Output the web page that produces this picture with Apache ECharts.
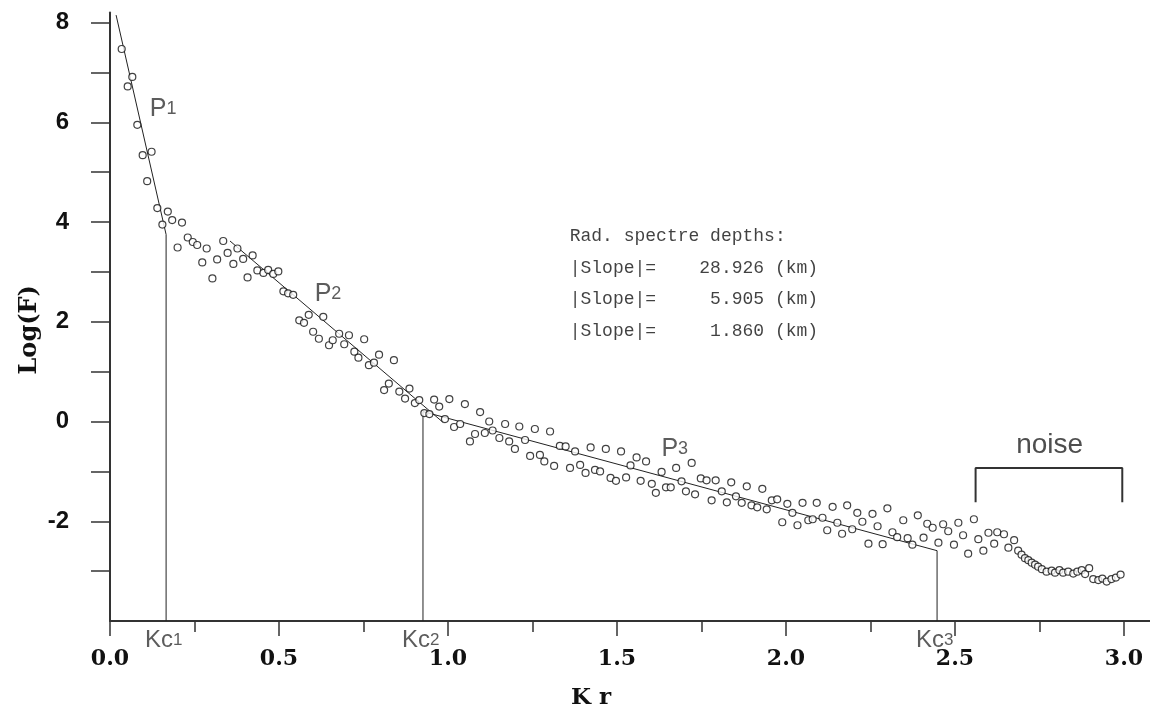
<!DOCTYPE html>
<html><head><meta charset="utf-8">
<script src="https://cdn.jsdelivr.net/npm/echarts@6/dist/echarts.min.js"></script>
<style>html,body{margin:0;padding:0;background:#fff}#c{width:1150px;height:715px}</style>
</head><body><div id="c"></div>
<script>
// ---- data ----
const kr = [0.0346,0.0524,0.066,0.0808,0.0967,0.110,0.123,0.140,0.155,0.171,0.184,0.200,0.213,0.230,0.245,0.258,0.273,0.286,0.303,0.317,0.335,0.348,0.365,0.377,0.394,0.407,0.422,0.436,0.454,0.468,0.483,0.498,0.513,0.527,0.542,0.560,0.574,0.588,0.601,0.618,0.631,0.648,0.659,0.678,0.693,0.707,0.723,0.735,0.752,0.766,0.781,0.796,0.811,0.825,0.840,0.856,0.873,0.886,0.902,0.915,0.930,0.945,0.959,0.974,0.991,1.004,1.018,1.036,1.050,1.065,1.080,1.095,1.109,1.122,1.132,1.152,1.169,1.181,1.198,1.211,1.228,1.243,1.257,1.272,1.285,1.302,1.314,1.331,1.348,1.361,1.376,1.391,1.407,1.422,1.435,1.450,1.467,1.481,1.497,1.512,1.527,1.540,1.558,1.570,1.586,1.603,1.615,1.632,1.645,1.659,1.675,1.691,1.704,1.721,1.731,1.748,1.765,1.780,1.792,1.810,1.825,1.838,1.852,1.869,1.884,1.898,1.915,1.930,1.943,1.958,1.974,1.989,2.004,2.019,2.034,2.049,2.066,2.079,2.091,2.108,2.122,2.138,2.152,2.166,2.181,2.196,2.211,2.226,2.244,2.256,2.271,2.286,2.300,2.315,2.329,2.347,2.360,2.374,2.390,2.407,2.418,2.434,2.451,2.465,2.480,2.497,2.510,2.524,2.539,2.556,2.569,2.584,2.599,2.616,2.625,2.645,2.658,2.675,2.687,2.697,2.707,2.717,2.727,2.737,2.746,2.757,2.771,2.786,2.796,2.809,2.820,2.835,2.850,2.862,2.875,2.885,2.897,2.909,2.924,2.936,2.949,2.963,2.976,2.990];
const logF = [7.47,6.72,6.91,5.95,5.34,4.82,5.41,4.28,3.95,4.21,4.04,3.49,3.99,3.69,3.60,3.54,3.19,3.47,2.87,3.25,3.62,3.38,3.16,3.47,3.26,2.89,3.33,3.03,2.98,3.04,2.96,3.01,2.61,2.57,2.54,2.03,1.98,2.14,1.80,1.66,2.10,1.53,1.63,1.76,1.55,1.73,1.40,1.28,1.65,1.13,1.18,1.34,0.63,0.76,1.23,0.60,0.46,0.66,0.37,0.43,0.17,0.15,0.44,0.30,0.05,0.45,-0.11,-0.05,0.35,-0.40,-0.25,0.19,-0.23,0.00,-0.18,-0.33,-0.05,-0.40,-0.55,-0.10,-0.37,-0.69,-0.15,-0.67,-0.80,-0.20,-0.89,-0.49,-0.50,-0.93,-0.60,-0.87,-1.03,-0.52,-0.97,-1.00,-0.55,-1.13,-1.19,-0.60,-1.12,-0.88,-0.72,-1.19,-0.80,-1.25,-1.43,-1.01,-1.32,-1.32,-0.93,-1.20,-1.40,-0.83,-1.46,-1.14,-1.18,-1.58,-1.18,-1.40,-1.62,-1.22,-1.50,-1.63,-1.30,-1.68,-1.72,-1.35,-1.76,-1.58,-1.56,-2.02,-1.65,-1.83,-2.08,-1.63,-1.98,-1.96,-1.63,-1.93,-2.18,-1.71,-2.03,-2.25,-1.68,-2.16,-1.83,-2.01,-2.45,-1.85,-2.10,-2.46,-1.74,-2.22,-2.32,-1.98,-2.34,-2.47,-1.88,-2.33,-2.05,-2.13,-2.43,-2.06,-2.20,-2.47,-2.03,-2.28,-2.65,-1.96,-2.36,-2.59,-2.23,-2.45,-2.22,-2.26,-2.53,-2.38,-2.59,-2.67,-2.74,-2.78,-2.83,-2.87,-2.91,-2.96,-3.01,-2.99,-3.03,-2.98,-3.03,-3.01,-3.05,-3.01,-2.98,-3.06,-2.94,-3.16,-3.18,-3.15,-3.21,-3.16,-3.13,-3.07];
const p1Fit = [[0.018, 8.15], [0.166, 3.75]];
const p2Fit = [[0.355, 3.62], [0.986, -0.02]];
const p3Fit = [[0.926, 0.20], [2.447, -2.59]];
const kcX = [0.166, 0.926, 2.447];
const kcTop = [3.75, 0.20, -2.59];
const kcNames = ['1', '2', '3'];
const noiseFrom = 2.561, noiseTo = 2.995;
const slopes = ['28.926', '5.905', '1.860'];
const xMajorTicks = [0, 0.5, 1.0, 1.5, 2.0, 2.5, 3.0];
const xMinorTicks = [0.25, 0.75, 1.25, 1.75, 2.25, 2.75];
const yTicks = [-3, -2, -1, 0, 1, 2, 3, 4, 5, 6, 7, 8];
const yLabels = [-2, 0, 2, 4, 6, 8];

// ---- chart ----
const chart = echarts.init(document.getElementById('c'), null, {renderer: 'canvas'});
const ink = '#222';
const thin = {color: ink, width: 1};
function seg(data) {
  return {type: 'line', data: data, symbol: 'none', lineStyle: thin, silent: true, z: 2};
}
const lbl = {fontFamily: 'Liberation Sans', color: '#333'};
const pRich = {p: Object.assign({fontSize: 25}, lbl), s: Object.assign({fontSize: 18}, lbl)};
const kRich = {k: Object.assign({fontSize: 24}, lbl), s: Object.assign({fontSize: 17}, lbl)};

const series = [];
series.push({type: 'scatter', data: kr.map((k, i) => [k, logF[i]]), symbol: 'circle', symbolSize: 7,
  itemStyle: {color: '#fff', borderColor: '#111', borderWidth: 1.2}, z: 3});
series.push(seg(p1Fit), seg(p2Fit), seg(p3Fit));
kcX.forEach((x, i) => series.push(seg([[x, -4], [x, kcTop[i]]])));
series.push(Object.assign(seg([[noiseFrom, -1.62], [noiseFrom, -0.93], [noiseTo, -0.93], [noiseTo, -1.62]]),
  {lineStyle: {color: '#333', width: 2}}));

const textBlock = ['Rad. spectre depths:']
  .concat(slopes.map(s => '|Slope|=' + ' '.repeat(10 - s.length) + s + ' (km)'));
series.push({
  type: 'scatter', symbolSize: 0, clip: false, silent: true, z: 5,
  data: [
    {value: [0.157, 6.27], label: {formatter: '{p|P}{s|1}', rich: pRich}},
    {value: [0.645, 2.55], label: {formatter: '{p|P}{s|2}', rich: pRich}},
    {value: [1.671, -0.56], label: {formatter: '{p|P}{s|3}', rich: pRich}},
    {value: [2.78, -0.48], label: {formatter: 'noise', fontFamily: 'Liberation Sans', fontSize: 28, color: '#222'}},
    {value: [1.36, 2.76], label: {position: 'right', distance: 0, align: 'left', formatter: textBlock.join('\n'),
      fontFamily: 'Liberation Mono', fontSize: 18, lineHeight: 31.5, color: '#111'}}
  ].concat(kcX.map((x, i) => ({value: [x - 0.007, -4.39],
      label: {formatter: '{k|Kc}{s|' + kcNames[i] + '}', rich: kRich}}))),
  label: {show: true, position: 'inside'}
});

chart.setOption({
  animation: false,
  backgroundColor: '#fff',
  grid: {left: 110, right: 0, top: 12.6, bottom: 93.5},
  xAxis: [{
    type: 'value', min: 0, max: 3.077, splitLine: {show: false},
    axisLine: {onZero: false, lineStyle: {color: '#333', width: 2}},
    axisTick: {customValues: xMajorTicks, length: 15, lineStyle: {color: '#333', width: 1.5}},
    axisLabel: {customValues: xMajorTicks, formatter: v => v.toFixed(1), margin: 27,
      fontFamily: 'DejaVu Serif', fontWeight: 'bold', fontSize: 22, color: '#111'},
    name: 'K r', nameLocation: 'middle', nameGap: 66, nameMoveOverlap: false,
    nameTextStyle: {fontFamily: 'DejaVu Serif', fontWeight: 'bold', fontSize: 23, color: '#111', padding: [0, 78, 0, 0]}
  }, {
    type: 'value', min: 0, max: 3.077, position: 'bottom', splitLine: {show: false},
    axisLine: {show: false, onZero: false},
    axisTick: {customValues: xMinorTicks, length: 11, lineStyle: {color: '#333', width: 1.5}},
    axisLabel: {show: false}
  }],
  yAxis: {
    type: 'value', min: -4, max: 8.2, splitLine: {show: false},
    axisLine: {onZero: false, lineStyle: {color: '#333', width: 2}},
    axisTick: {customValues: yTicks, length: 19, lineStyle: {color: '#333', width: 1.5}},
    axisLabel: {customValues: yLabels, margin: 41,
      fontFamily: 'Liberation Sans', fontWeight: 'bold', fontSize: 24, color: '#111'},
    name: 'Log(F)', nameLocation: 'middle', nameRotate: 90, nameGap: 68, nameMoveOverlap: false,
    nameTextStyle: {fontFamily: 'DejaVu Serif', fontWeight: 'bold', fontSize: 24, color: '#111', padding: [0, 26, 0, 0]}
  },
  series: series
});
</script></body></html>
